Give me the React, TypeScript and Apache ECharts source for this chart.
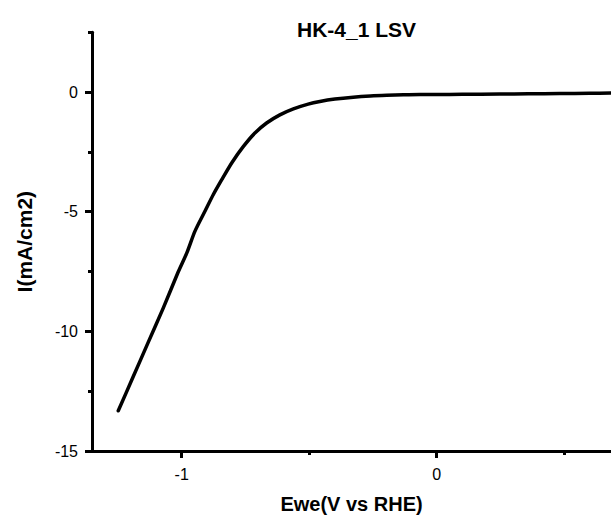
import React, { useEffect, useRef } from "react";
import * as echarts from "echarts";

const voltage = [
  -1.249, -1.191, -1.132, -1.073, -1.014, -0.98, -0.948, -0.909, -0.876, -0.843,
  -0.804, -0.758, -0.713, -0.667, -0.615, -0.562, -0.504, -0.458, -0.399, -0.327,
  -0.26, -0.196, -0.13, -0.065, 0.0, 0.1, 0.248, 0.36, 0.483, 0.6, 0.684,
];
const current = [
  -13.32, -11.91, -10.47, -9.04, -7.52, -6.72, -5.81, -4.98, -4.28, -3.66,
  -2.96, -2.27, -1.71, -1.29, -0.95, -0.7, -0.5, -0.39, -0.29, -0.21,
  -0.16, -0.13, -0.11, -0.1, -0.1, -0.09, -0.08, -0.07, -0.06, -0.05, -0.04,
];

const xMajorTicks = [-1, 0];
const xMinorTicks = [-0.5, 0.5];
const yMajorTicks = [-15, -10, -5, 0];
const yMinorTicks = [-12.5, -7.5, -2.5, 2.5];

const titleText = "HK-4_1 LSV";
const xName = "Ewe(V vs RHE)";
const yName = "I(mA/cm2)";

const FONT = "'Liberation Sans', Arial, Helvetica, sans-serif";

export default function App() {
  const ref = useRef<HTMLDivElement>(null);
  useEffect(() => {
    if (!ref.current) return;
    const chart = echarts.init(ref.current, null, { renderer: "svg" });
    const xMin = -1.352;
    const xMax = 0.684;
    const yMin = -15;
    const yMax = 2.5;
    const tickAxisX = (values: number[], len: number) => ({
      type: "value",
      min: xMin,
      max: xMax,
      position: "bottom",
      axisLine: { show: false, onZero: false },
      splitLine: { show: false },
      axisTick: {
        show: true,
        inside: false,
        length: len,
        customValues: values,
        lineStyle: { color: "#000", width: 3 },
      },
      axisLabel: { show: false },
    });
    const tickAxisY = (values: number[], len: number) => ({
      type: "value",
      min: yMin,
      max: yMax,
      position: "left",
      axisLine: { show: false, onZero: false },
      splitLine: { show: false },
      axisTick: {
        show: true,
        inside: false,
        length: len,
        customValues: values,
        lineStyle: { color: "#000", width: 3 },
      },
      axisLabel: { show: false },
    });
    chart.setOption({
      animation: false,
      backgroundColor: "#fff",
      title: {
        text: titleText,
        left: 292,
        top: 14,
        textStyle: { fontFamily: FONT, fontSize: 21, fontWeight: "bold", color: "#000" },
      },
      grid: { left: 92, right: 0, top: 32.3, bottom: 67, containLabel: false },
      xAxis: [
        {
          type: "value",
          min: xMin,
          max: xMax,
          axisLine: { show: true, onZero: false, lineStyle: { color: "#000", width: 3 } },
          splitLine: { show: false },
          axisTick: { show: false },
          axisLabel: {
            customValues: xMajorTicks,
            margin: 15,
            fontFamily: FONT,
            fontSize: 16,
            color: "#000",
          },
          name: xName,
          nameLocation: "middle",
          nameGap: 43,
          nameTextStyle: { fontFamily: FONT, fontSize: 20, fontWeight: "bold", color: "#000" },
        },
        tickAxisX(xMajorTicks, 7),
        tickAxisX(xMinorTicks, 4),
      ],
      yAxis: [
        {
          type: "value",
          min: yMin,
          max: yMax,
          axisLine: { show: true, onZero: false, lineStyle: { color: "#000", width: 3 } },
          splitLine: { show: false },
          axisTick: { show: false },
          axisLabel: {
            customValues: yMajorTicks,
            margin: 14,
            fontFamily: FONT,
            fontSize: 16,
            color: "#000",
          },
          name: yName,
          nameLocation: "middle",
          nameRotate: 90,
          nameGap: 57,
          nameTextStyle: { fontFamily: FONT, fontSize: 21, fontWeight: "bold", color: "#000" },
        },
        tickAxisY(yMajorTicks, 7),
        tickAxisY(yMinorTicks, 4),
      ],
      series: [
        {
          type: "line",
          xAxisIndex: 0,
          yAxisIndex: 0,
          data: voltage.map((v, i) => [v, current[i]]),
          showSymbol: false,
          symbol: "none",
          smooth: 0.25,
          lineStyle: { color: "#000", width: 3.5, cap: "round", join: "round" },
          clip: false,
        },
      ],
    });
    return () => chart.dispose();
  }, []);
  return (
    <div
      ref={ref}
      style={{ position: "absolute", left: 0, top: 0, width: 611, height: 519 }}
    />
  );
}
